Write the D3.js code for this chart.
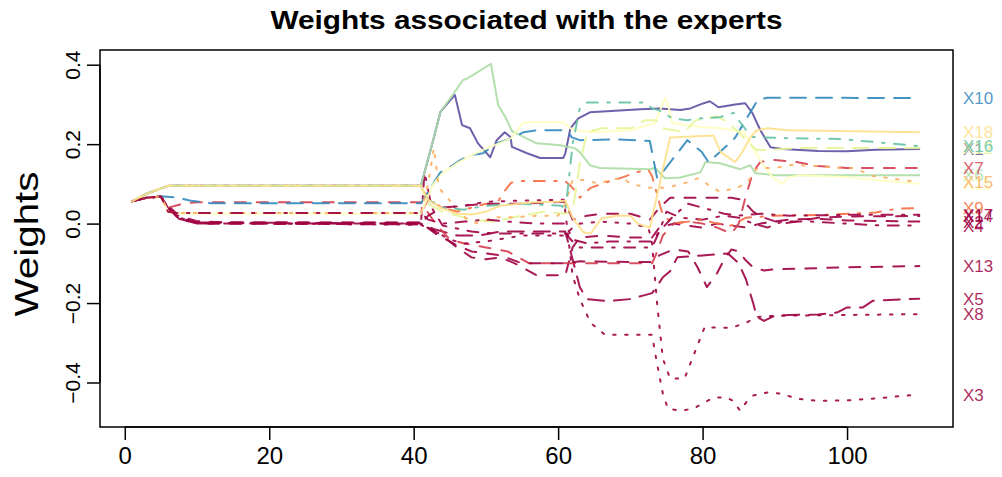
<!DOCTYPE html>
<html>
  <head>
    <meta charset="utf-8">
    <title>Weights associated with the experts</title>
    <script src="https://d3js.org/d3.v7.min.js"></script>
    <style>
      body { margin: 0; background: #fff; }
      text { font-family: "Liberation Sans", Arial, Helvetica, sans-serif; }
    </style>
  </head>
  <body>
    <svg id="chart" width="1002" height="477"></svg>
    <script>
      // tick labels
      xTicks = [0, 20, 40, 60, 80, 100];
      yTicks = [-0.4, -0.2, 0.0, 0.2, 0.4];

      // expert names and colours (Spectral palette)
      experts = ["X1", "X2", "X3", "X4", "X5", "X6", "X7", "X8", "X9", "X10", "X11", "X12", "X13", "X14", "X15", "X16", "X17", "X18"];
      colours = ["#5E4FA2", "#9E0142", "#9E0142", "#9E0142", "#9E0142", "#ABDDA4", "#D53E4F", "#9E0142", "#F46D43", "#3288BD", "#FFFFBF", "#E6F598", "#9E0142", "#9E0142", "#FDAE61", "#66C2A5", "#9E0142", "#FEE08B"];
      lineTypes = ["solid", "dashed", "dotted", "dotdash", "longdash", "solid", "dashed", "dotted", "dotdash", "longdash", "solid", "longdash", "dashed", "dashed", "dotted", "dotdash", "dotdash", "solid"];

      // weights, [time, weight]
      wX1 = [[1,.056],[3,.075],[6,.095],[41,.095],[42.7,.21],[43.7,.281],[45.7,.324],[46.7,.248],[47.8,.24],[48.9,.202],[50.6,.167],[51.5,.21],[52.6,.23],[53.4,.218],[53.6,.193],[55.7,.177],[57.5,.165],[60.7,.165],[61,.177],[61.7,.24],[62.8,.265],[64.4,.28],[71.4,.288],[74.1,.29],[76.9,.286],[78.3,.29],[79.7,.3],[81,.308],[82.2,.293],[84.5,.3],[85.9,.303],[86.9,.278],[88,.235],[89.4,.192],[91,.188],[96,.183],[100,.182],[104,.186],[110,.188]];
      wX2 = [[1,.056],[3,.065],[5,.068],[6,.045],[7.5,.02],[10,.006],[14,.003],[41,.003],[42,-.01],[44,-.03],[46,-.06],[48,-.085],[50,-.09],[52,-.085],[54,-.1],[57,-.13],[61,-.13],[62,-.06],[63,-.035],[66,-.03],[70,-.035],[73,-.035],[74,-.01],[76,0],[80,-.01],[82,0],[84,-.005],[86,-.01],[88,0],[92,.01],[96,.012],[100,.008],[110,.005]];
      wX3 = [[1,.056],[3,.075],[6,.095],[41,.095],[42,.06],[44,.04],[47,.045],[50,.055],[55,.058],[60.8,.06],[61.5,-.05],[62,-.13],[63,-.19],[64.5,-.25],[66.5,-.28],[73,-.28],[73.7,-.353],[74.5,-.428],[75.2,-.466],[77,-.471],[78.7,-.466],[80,-.453],[81.5,-.438],[83.4,-.438],[84.2,-.446],[85.2,-.471],[86.2,-.446],[87,-.433],[89,-.425],[91,-.428],[93,-.441],[96,-.446],[100,-.445],[104,-.44],[110,-.43]];
      wX4 = [[1,.056],[3,.065],[5,.068],[6,.04],[7.5,.015],[10,.003],[41,0],[41.5,.13],[42.5,.04],[44,-.005],[48,-.02],[51,-.025],[55,-.025],[61,-.025],[62,-.045],[63,-.06],[73,-.06],[74,-.02],[75,.03],[77,.015],[80,.01],[83,.02],[85,.015],[87,0],[89,-.01],[91,.005],[95,.005],[100,0],[105,-.005],[110,-.005]];
      wX5 = [[1,.056],[3,.065],[5,.068],[6,.04],[7.5,.012],[10,0],[41,0],[43,-.015],[46,-.03],[49,-.03],[52,-.02],[56,-.02],[61,-.02],[62,-.09],[63,-.16],[64,-.19],[67,-.195],[70,-.19],[72,-.18],[73,-.175],[73.5,-.163],[74.5,-.135],[75.5,-.12],[76.5,-.085],[80,-.08],[83.5,-.075],[85,-.1],[86,-.14],[87,-.2],[87.5,-.235],[88.5,-.245],[90,-.232],[92,-.23],[96,-.229],[98.6,-.224],[100,-.211],[102.2,-.211],[103.6,-.194],[110,-.189]];
      wX6 = [[1,.056],[3,.075],[6,.095],[41,.095],[42.7,.21],[43.7,.281],[45.4,.324],[46.8,.361],[47.5,.366],[50.7,.402],[51.7,.298],[52.7,.268],[53.6,.233],[57,.202],[60.3,.197],[62.3,.19],[63,.18],[64.4,.147],[65.8,.14],[72.7,.137],[73.4,.14],[74.8,.114],[76.9,.116],[79.7,.129],[80.4,.155],[82.4,.152],[85.2,.137],[86.6,.147],[87.3,.127],[90,.122],[110,.122]];
      wX7 = [[1,.056],[3,.065],[5,.068],[6,.04],[8,.05],[10,.054],[41,.054],[43,0],[45,-.04],[47,-.05],[50,-.06],[53,-.07],[56,-.1],[61,-.1],[73,-.1],[73.5,-.08],[74.5,-.03],[76,0],[78,.005],[80,0],[82,-.01],[84,-.025],[85,0],[86,.07],[87,.13],[88,.155],[90,.16],[93,.155],[96,.145],[100,.14],[110,.14]];
      wX8 = [[1,.056],[3,.065],[5,.068],[6,.04],[7.5,.015],[10,.002],[41,-.003],[43,-.02],[45,-.04],[47,-.05],[50,-.045],[55,-.03],[61,-.03],[62,-.01],[63,0],[66,.005],[70,0],[72.5,-.01],[73,-.05],[73.7,-.2],[74.5,-.34],[75.5,-.39],[77.5,-.39],[79,-.32],[80.3,-.26],[82,-.262],[84,-.262],[86,-.25],[87.5,-.235],[90,-.232],[110,-.228]];
      wX9 = [[1,.056],[3,.065],[5,.068],[6,.03],[7,.027],[41,.027],[42,.06],[44,.04],[46,.03],[48,.04],[50,.05],[51.5,.05],[52.5,.08],[53.5,.103],[55,.107],[61,.107],[62,.09],[63,.065],[64.5,.09],[66,.1],[69,.117],[71,.13],[72.5,.135],[73,.12],[74.5,.02],[76,0],[78,.005],[80,.01],[82,0],[84,-.005],[86,.015],[90,.02],[97,.022],[104,.028],[107,.038],[110,.039]];
      wX10 = [[1,.056],[3,.065],[4.9,.069],[7.2,.066],[9,.058],[12,.051],[41,.051],[42.7,.101],[43.7,.129],[45,.142],[46.4,.159],[47.8,.172],[49.6,.177],[51.5,.202],[53.8,.217],[55.2,.23],[57.1,.235],[61.2,.235],[61.9,.217],[63,.21],[68.2,.212],[72.7,.208],[73.7,.115],[74.4,.128],[77.9,.21],[79.9,.18],[80.8,.155],[82.4,.18],[84.5,.216],[87.6,.31],[88.9,.317],[110,.316]];
      wX11 = [[1,.056],[3,.065],[5,.068],[6,.03],[7,.025],[41,.025],[42.7,.1],[44,.127],[46,.152],[47.5,.167],[49.5,.185],[52,.203],[53.5,.215],[55.2,.255],[60.7,.255],[61.7,.24],[62.5,.235],[64.5,.23],[70,.235],[73.4,.253],[74.8,.316],[75.3,.293],[75.8,.253],[79.7,.243],[82.4,.24],[84.3,.235],[85.7,.23],[87,.19],[88.3,.15],[89.7,.117],[91,.1],[92,.117],[93.5,.122],[100,.117],[104,.11],[110,.1]];
      wX12 = [[1,.056],[3,.075],[6,.095],[41,.095],[42,.05],[44,.03],[46,.02],[48,.01],[51,.005],[55,.02],[58,.03],[61,.025],[62,.03],[63,.15],[64,.23],[66,.24],[70,.24],[72,.26],[73.5,.26],[74.5,.24],[77.5,.23],[79,.26],[82,.27],[83,.26],[85,.23],[86.6,.2],[87.5,.185],[89,.185],[93,.19],[110,.19]];
      wX13 = [[1,.056],[3,.065],[5,.068],[6,.04],[7.5,.015],[10,.003],[41,.002],[43,-.025],[46,-.055],[48,-.07],[50,-.075],[52,-.08],[55,-.1],[61,-.1],[63,-.095],[73,-.097],[74,-.08],[76,-.065],[78,-.07],[79.3,-.11],[80.6,-.16],[82,-.125],[83,-.09],[84,-.065],[85,-.07],[86,-.093],[87,-.11],[88.5,-.118],[90,-.115],[100,-.11],[110,-.107]];
      wX14 = [[1,.056],[3,.065],[5,.068],[6,.04],[7.5,.012],[10,0],[41,-.002],[42,.02],[44,.04],[47,.045],[50,.05],[55,.05],[61,.055],[62,.01],[64,.02],[66,.025],[70,.025],[72.7,.01],[74,.04],[75.5,.065],[84,.065],[85.5,.06],[87,.03],[88.5,.015],[91,0],[93,.005],[96,.015],[100,.018],[110,.019]];
      wX15 = [[1,.056],[3,.065],[5,.068],[6,.03],[7,.027],[41,.027],[42,.1],[42.8,.19],[43.5,.09],[45,.058],[47.5,.008],[49,0],[51,.016],[54,.016],[57,.02],[60,.02],[61,.05],[62,.11],[63.5,.11],[65.8,.1],[67,.11],[69,.115],[70,.1],[72.7,.09],[75,.09],[77.9,.104],[79.3,.114],[82.4,.08],[84.8,.09],[86.2,.104],[87.6,.14],[90,.14],[92.5,.148],[95.6,.145],[99,.14],[101,.14],[103.5,.12],[106,.114],[110,.104]];
      wX16 = [[1,.056],[3,.075],[6,.095],[41,.095],[42,.06],[44,.04],[47,.035],[50,.045],[55,.05],[60.5,.045],[61,.03],[62,.2],[63,.29],[64,.305],[72,.305],[73,.29],[74,.285],[75.8,.265],[77.9,.26],[79.7,.265],[82.4,.268],[84.3,.279],[85,.26],[86.6,.222],[87,.218],[91.7,.215],[99,.213],[104,.205],[110,.195]];
      wX17 = [[1,.056],[3,.065],[5,.068],[6,.03],[7,.027],[41,.027],[42,.01],[44,0],[47,.005],[50,.01],[53,.005],[57,0],[61,0],[62,-.04],[64,-.05],[67,-.045],[73,-.045],[74,-.02],[76,.02],[78,.05],[80,.04],[83,.025],[85,.02],[88,.025],[92,.02],[100,.022],[110,.022]];
      wX18 = [[1,.056],[3,.075],[6,.095],[41,.095],[42,.06],[43.7,.04],[46,.025],[48,.023],[50,.03],[52,.045],[56,.053],[60,.055],[61,.058],[62,.015],[63.5,-.022],[64.5,-.025],[66,.013],[68,.02],[70,.02],[71,0],[72.7,-.01],[75.5,.217],[81.5,.222],[82.5,.18],[84.5,.155],[85.5,.18],[86.6,.217],[87.5,.235],[89,.24],[91.7,.235],[110,.23]];
      weights = [wX1, wX2, wX3, wX4, wX5, wX6, wX7, wX8, wX9, wX10, wX11, wX12, wX13, wX14, wX15, wX16, wX17, wX18];

      // dash patterns like R's lty
      dashes = {
        solid: null,
        dashed: "11,11",
        dotted: "2.5,9.5",
        dotdash: "2.5,9.5,11,9.5",
        longdash: "16,10"
      };

      // plot box
      box = {left: 100, right: 953, top: 50, bottom: 427};
      svg = d3.select("#chart");
      x = d3.scaleLinear().domain([-3.43, 114.67]).range([box.left, box.right]);
      y = d3.scaleLinear().domain([-0.512, 0.437]).range([box.bottom, box.top]);
      line = d3.line()
        .x(function(d) { return x(d[0]); })
        .y(function(d) { return y(d[1]); });

      svg.append("clipPath").attr("id", "clip")
        .append("rect")
          .attr("x", box.left).attr("y", box.top)
          .attr("width", box.right - box.left).attr("height", box.bottom - box.top);

      // weight lines
      svg.append("g").attr("clip-path", "url(#clip)")
        .selectAll("path")
          .data(weights)
        .enter().append("path")
          .attr("d", line)
          .attr("fill", "none")
          .attr("stroke", function(d, i) { return colours[i]; })
          .attr("stroke-opacity", 0.9)
          .attr("stroke-width", 2)
          .attr("stroke-linecap", "round")
          .attr("stroke-linejoin", "round")
          .attr("stroke-dasharray", function(d, i) { return dashes[lineTypes[i]]; });

      // box
      svg.append("rect")
        .attr("x", box.left).attr("y", box.top)
        .attr("width", box.right - box.left).attr("height", box.bottom - box.top)
        .attr("fill", "none").attr("stroke", "#000").attr("stroke-width", 1.5);

      // axes
      xAxis = svg.append("g")
        .attr("transform", "translate(0," + box.bottom + ")")
        .call(d3.axisBottom(x).tickValues(xTicks).tickSize(13).tickPadding(7));
      xAxis.select(".domain").attr("d", "M" + x(0) + ",0H" + x(100)).attr("stroke-width", 1.5);
      xAxis.selectAll(".tick line").attr("stroke-width", 1.5);
      xAxis.selectAll("text")
        .attr("font-size", 24).attr("fill", "#000")
        .attr("font-family", "Liberation Sans, Arial, sans-serif");

      yAxis = svg.append("g")
        .attr("transform", "translate(" + box.left + ",0)")
        .call(d3.axisLeft(y).tickValues(yTicks).tickSize(13).tickFormat(d3.format(".1f")));
      yAxis.select(".domain").attr("d", "M0," + y(-0.4) + "V" + y(0.4)).attr("stroke-width", 1.5);
      yAxis.selectAll(".tick line").attr("stroke-width", 1.5);
      yAxis.selectAll("text")
        .attr("font-size", 21).attr("fill", "#000")
        .attr("font-family", "Liberation Sans, Arial, sans-serif")
        .attr("text-anchor", "middle")
        .attr("x", null).attr("dy", null)
        .attr("transform", "translate(-20,0) rotate(-90)");

      // titles
      svg.append("text")
        .attr("x", (box.left + box.right) / 2).attr("y", 29)
        .attr("text-anchor", "middle")
        .attr("font-size", 25).attr("font-weight", "bold")
        .attr("textLength", 512).attr("lengthAdjust", "spacingAndGlyphs")
        .text("Weights associated with the experts");
      svg.append("text")
        .attr("transform", "translate(38,244) rotate(-90)")
        .attr("text-anchor", "middle")
        .attr("font-size", 33)
        .attr("textLength", 145).attr("lengthAdjust", "spacingAndGlyphs")
        .text("Weights");

      // expert names at the last weight
      svg.append("g").selectAll("text")
          .data(weights)
        .enter().append("text")
          .attr("x", box.right + 10)
          .attr("y", function(d) { return y(d[d.length - 1][1]); })
          .attr("dy", "0.36em")
          .attr("font-size", 17)
          .attr("fill", function(d, i) { return colours[i]; })
          .attr("fill-opacity", 0.85)
          .text(function(d, i) { return experts[i]; });
    </script>
  </body>
</html>
